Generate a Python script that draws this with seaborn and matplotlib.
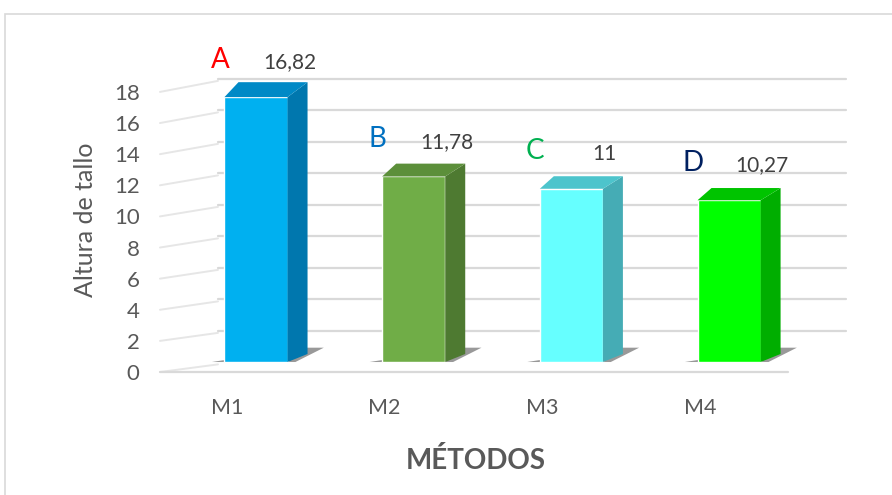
import matplotlib
matplotlib.use('Agg')
import matplotlib.pyplot as plt
import matplotlib.transforms as mtransforms
from matplotlib.patches import Polygon, Rectangle
import pandas as pd
import seaborn as sns

sns.set_style('white')
plt.rcParams['font.family'] = ['Lato', 'DejaVu Sans']

# datos del grafico
metodos = ['M1', 'M2', 'M3', 'M4']
altura = [16.82, 11.78, 11.0, 10.27]
etiquetas = ['16,82', '11,78', '11', '10,27']
letras = ['A', 'B', 'C', 'D']
yticks = [0, 2, 4, 6, 8, 10, 12, 14, 16, 18]

# colores (frente, lado, tapa) y letras
color_frente = ['#00B0F0', '#70AD47', '#66FFFF', '#00FF00']
color_lado = ['#0077AE', '#4E7A31', '#45ACB5', '#00AE00']
color_tapa = ['#0089C6', '#5C8F3A', '#4DC4CC', '#00C400']
color_letras = ['#FF0000', '#0070C0', '#00B050', '#002060']
gris = '#595959'

df = pd.DataFrame({'Metodo': metodos, 'Altura': altura})

fig = plt.figure(figsize=(8.92, 4.95), dpi=100)
ax = fig.add_axes([0.1721, 0.2432, 0.7778, 0.6459])
sns.barplot(data=df, x='Metodo', y='Altura', hue='Metodo', palette=color_frente,
            width=0.4, saturation=1, legend=False, errorbar=None, ax=ax, zorder=4)
ax.set_xlim(-0.65, 3.75)
ax.set_ylim(-0.8, 19.5)

# pixel -> unidades de datos
ux = 1 / 157.67
dx = 20 * ux


def dy(v):
    # profundidad con algo de perspectiva
    return 0.51 + 0.026 * v


def front_y(v):
    return -0.635 + 0.988 * v


x_front_left = -0.609
x_back_left = -0.241
x_back_right = 3.742
x_front_right = 3.374

# pared del fondo y pared lateral
for v in yticks[1:]:
    ax.plot([x_back_left, x_back_right], [v, v], color='#D9D9D9', lw=1.6, zorder=1)
for v in yticks:
    ax.plot([x_front_left, x_back_left], [front_y(v), v - 0.15], color='#E6E6E6', lw=1.4, zorder=1)
ax.plot([x_front_left, x_front_right], [front_y(0), front_y(0)], color='#D9D9D9', lw=1.6, zorder=2)

# caras 3D de las barras
bars = sorted(ax.patches, key=lambda p: p.get_x())
for i, bar in enumerate(bars):
    x0 = bar.get_x()
    x1 = x0 + bar.get_width()
    h = bar.get_height()
    sombra = Polygon([(x0 - 0.08, 0), (x1 + 0.05, 0), (x1 + 0.23, dy(0) + 0.4), (x1 + 0.1, dy(0) + 0.4)],
                     closed=True, facecolor='#555555', edgecolor='none', alpha=0.6, zorder=3)
    ax.add_patch(sombra)
    lado = Polygon([(x1, 0), (x1, h), (x1 + dx, h + dy(h)), (x1 + dx, dy(0))],
                   closed=True, facecolor=color_lado[i], edgecolor='none', zorder=5)
    tapa = Polygon([(x0, h), (x1, h), (x1 + dx, h + dy(h)), (x0 + dx * 0.7, h + dy(h))],
                   closed=True, facecolor=color_tapa[i], edgecolor='none', zorder=5)
    ax.add_patch(lado)
    ax.add_patch(tapa)
    xc = x0 + bar.get_width() / 2
    ax.annotate(letras[i], (xc, h), xytext=(-26, 27), textcoords='offset points',
                ha='center', va='center', fontsize=20, color=color_letras[i])
    ax.annotate(etiquetas[i], (xc, h), xytext=(24, 25), textcoords='offset points',
                ha='center', va='center', fontsize=15, color='#404040')

# ejes
ax.set_yticks([front_y(v) for v in yticks], labels=[str(v) for v in yticks])
ax.tick_params(axis='y', length=0, pad=10, labelsize=16, labelcolor=gris)
ax.tick_params(axis='x', length=0, pad=17, labelsize=15.5, labelcolor=gris)
offset = mtransforms.ScaledTranslation(-29 / 100, 0, fig.dpi_scale_trans)
for lab in ax.get_xticklabels():
    lab.set_transform(lab.get_transform() + offset)

ax.set_ylabel('Altura de tallo', fontsize=18, color=gris)
ax.yaxis.set_label_coords(-0.082, 0.484)
ax.set_xlabel('MÉTODOS', fontsize=20, fontweight='bold', color=gris)
ax.xaxis.set_label_coords(0.465, -0.226)
for s in ax.spines.values():
    s.set_visible(False)

fig.patches.append(Rectangle((5 / 892, -0.05), 1.1, 1 - 14 / 495 + 0.05, transform=fig.transFigure,
                             fill=False, edgecolor='#D9D9D9', lw=1.2))

fig.savefig('out.png', dpi=100)
